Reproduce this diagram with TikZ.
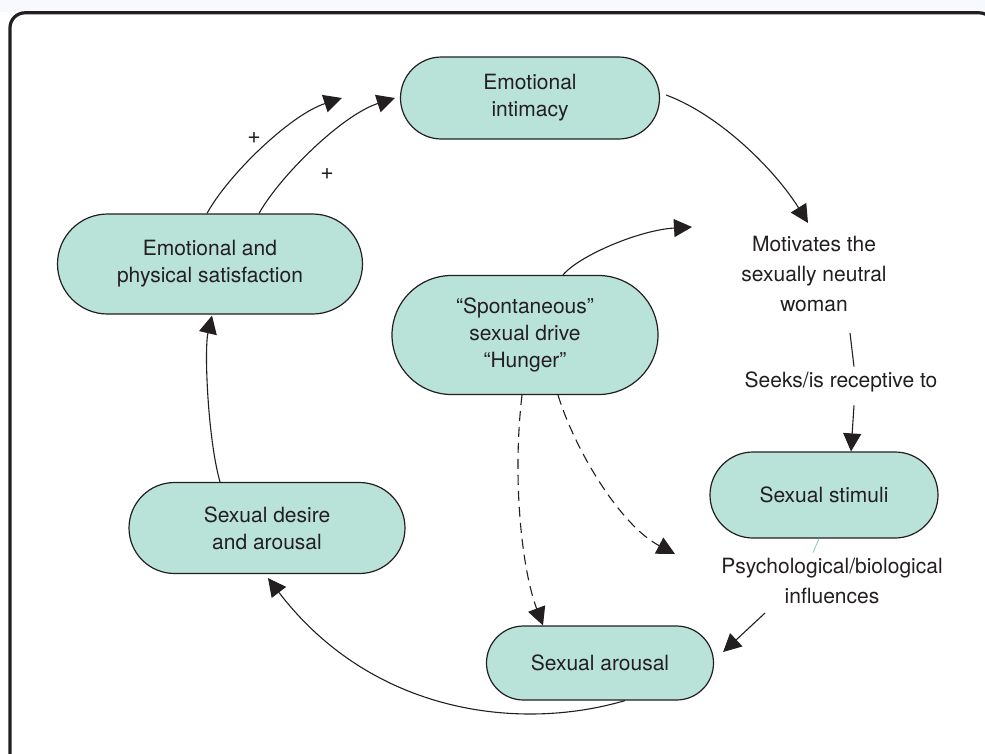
\documentclass[tikz,border=0pt]{standalone}
\usepackage{fontspec}
\setmainfont{TeX Gyre Heros}
\usetikzlibrary{shapes.misc,arrows.meta}
\definecolor{ink}{HTML}{231F20}
\definecolor{boxfill}{HTML}{B9E2D9}
\definecolor{band}{HTML}{F7F9FC}
\definecolor{tealline}{HTML}{7FCDC4}

\begin{document}
\begin{tikzpicture}[x=1pt,y=-1pt,
  stage/.style={rounded rectangle, draw=ink, fill=boxfill, line width=1.2pt,
    text=ink, align=center, inner sep=0pt, font=\fontsize{21}{27}\selectfont},
  note/.style={text=ink, align=center, inner sep=0pt, font=\fontsize{21}{30}\selectfont},
  sign/.style={text=ink, inner sep=0pt, font=\fontsize{23}{26}\selectfont},
  link/.style={draw=ink, line width=1.1pt, -{Triangle[length=18pt,width=18pt]}},
  dashlink/.style={link, dash pattern=on 10pt off 6pt},
]
% page area and outer frame
\useasboundingbox (0,0) rectangle (985,753);
\fill[white] (0,0) rectangle (985,753);
\fill[band] (0,0) rectangle (985,11.5);
\draw[ink, line width=3.2pt, rounded corners=15pt] (10,12.8) rectangle (994,820);

% stages of the cycle
\node[stage, minimum width=259pt, minimum height=82pt]  (intim) at (530,98)  {Emotional\\intimacy};
\node[stage, minimum width=305pt, minimum height=100pt] (sat)   at (210,264) {Emotional and\\physical satisfaction};
\node[stage, minimum width=266pt, minimum height=119pt] (spont) at (525,335) {“Spontaneous”\\sexual drive\\“Hunger”};
\node[stage, minimum width=228pt, minimum height=86pt]  (stim)  at (824,495) {Sexual stimuli};
\node[stage, minimum width=227pt, minimum height=74pt]  (arous) at (600,663) {Sexual arousal};
\node[stage, minimum width=276pt, minimum height=91pt]  (des)   at (267,528) {Sexual desire\\and arousal};

% free-standing captions
\node[note] (mot)  at (814,274) {Motivates the\\sexually neutral\\woman};
\node[note] (seek) at (841,382) {Seeks/is receptive to};
\node[note] (psy)  at (832,581) {Psychological/biological\\influences};

% signs on the feedback arrows
\node[sign] (plusa) at (254,138) {+};
\node[sign] (plusb) at (327,174) {+};

% loose arrow ends
\coordinate (motin) at (808,223);
\coordinate (drvtip) at (692,227);
\coordinate (dtip) at (675,554);

% satisfaction feeds back into intimacy
\draw[link] ([shift={(-3,0)}]sat.north) .. controls (228,175) and (290,115) .. ([shift={(-58,0)}]intim.west);
\draw[link] ([shift={(49,0)}]sat.north) .. controls (280,176) and (342,115) .. ([shift={(-5,0)}]intim.west);

% intimacy motivates the woman
\draw[link] ([shift={(6,-3)}]intim.east) .. controls (720,115) and (775,170) .. (motin);

% spontaneous drive
\draw[link] ([shift={(38,0)}]spont.north) .. controls (580,255) and (640,230) .. (drvtip);
\draw[dashlink] ([shift={(-3,0)}]spont.south) .. controls (512,480) and (522,570) .. ([shift={(-57,0)}]arous.north);
\draw[dashlink] ([shift={(33,0)}]spont.south) .. controls (575,450) and (620,525) .. (dtip);

% seeks stimuli
\draw[ink, line width=1.1pt] ([shift={(36,21)}]mot.south) -- ([shift={(13,-5)}]seek.north);
\draw[link] ([shift={(13,13)}]seek.south) -- ([shift={(27,0)}]stim.north);
\draw[tealline, line width=0.8pt] ([shift={(-5,0)}]stim.south) -- ++(-6,14);

% influences lead to arousal
\draw[link] ([shift={(-67,9)}]psy.south) -- ([shift={(9,-11)}]arous.east);

% arousal to desire to satisfaction
\draw[link] ([shift={(25,0)}]arous.south) .. controls (518,732) and (371,713) .. ([shift={(1,4)}]des.south);
\draw[link] ([shift={(-47,0)}]des.north) .. controls (208,440) and (204,350) .. ([shift={(2,1)}]sat.south);
\end{tikzpicture}
\end{document}
